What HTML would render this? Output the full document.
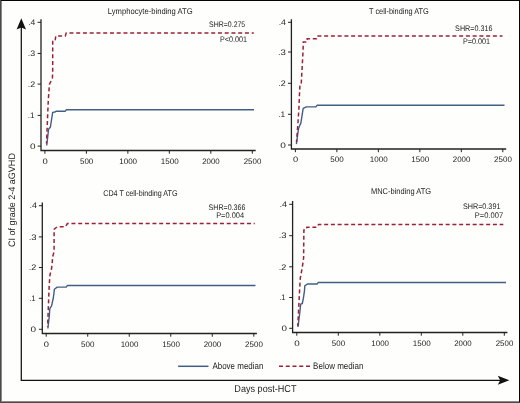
<!DOCTYPE html>
<html><head><meta charset="utf-8"><title>CI of grade 2-4 aGVHD</title>
<style>html,body{margin:0;padding:0;background:#fefefd;}svg{display:block;font-family:"Liberation Sans", sans-serif;text-rendering:geometricPrecision;will-change:transform;}</style>
</head><body>
<svg width="520" height="403" viewBox="0 0 520 403">
<rect x="0" y="0" width="520" height="403" fill="#fefefd"/>
<rect x="0" y="0" width="520" height="1" fill="#050505"/>
<rect x="519" y="0" width="1" height="402" fill="#050505"/>
<rect x="0" y="0" width="1" height="403" fill="#4a4a4a"/>
<rect x="1" y="1" width="1" height="400" fill="#8a8a8a"/>
<rect x="0" y="402" width="520" height="1" fill="#4a4a4a"/>
<rect x="1" y="401" width="518" height="1" fill="#8a8a8a"/>
<path d="M21.3 27 L21.3 380.3 L500 380.3" fill="none" stroke="#111" stroke-width="1.25"/>
<path d="M21.3 18.3 L26.0 29.5 L21.3 27.6 L16.6 29.5 Z" fill="#111"/>
<path d="M509.3 380.3 L497.8 375.8 L500.2 380.3 L497.8 384.8 Z" fill="#111"/>
<path d="M41.00 19.20 L41.00 150.50 L255.70 150.50" fill="none" stroke="#222" stroke-width="1.3"/>
<line x1="37.60" y1="146.10" x2="41.00" y2="146.10" stroke="#222" stroke-width="1"/>
<line x1="37.60" y1="115.40" x2="41.00" y2="115.40" stroke="#222" stroke-width="1"/>
<line x1="37.60" y1="84.10" x2="41.00" y2="84.10" stroke="#222" stroke-width="1"/>
<line x1="37.60" y1="53.45" x2="41.00" y2="53.45" stroke="#222" stroke-width="1"/>
<line x1="37.60" y1="22.30" x2="41.00" y2="22.30" stroke="#222" stroke-width="1"/>
<line x1="44.90" y1="150.50" x2="44.90" y2="153.70" stroke="#222" stroke-width="1"/>
<line x1="86.38" y1="150.50" x2="86.38" y2="153.70" stroke="#222" stroke-width="1"/>
<line x1="127.86" y1="150.50" x2="127.86" y2="153.70" stroke="#222" stroke-width="1"/>
<line x1="169.34" y1="150.50" x2="169.34" y2="153.70" stroke="#222" stroke-width="1"/>
<line x1="210.82" y1="150.50" x2="210.82" y2="153.70" stroke="#222" stroke-width="1"/>
<line x1="252.30" y1="150.50" x2="252.30" y2="153.70" stroke="#222" stroke-width="1"/>
<polyline points="46.70,145.50 48.60,129.20 50.40,127.00 52.70,112.40 54.80,112.00 56.40,111.20 65.30,111.20 66.30,109.80 254.00,109.80" fill="none" stroke="#435e86" stroke-width="1.4" stroke-linejoin="round"/>
<polyline points="46.50,143.50 48.30,100.00 49.40,84.50 52.40,78.00 52.70,72.00 52.70,40.00 55.30,39.60 55.80,35.90 65.30,35.90 66.20,32.95 253.80,32.95" fill="none" stroke="#9a2039" stroke-width="1.5" stroke-dasharray="4.0 2.75" stroke-dashoffset="1.809"/>
<path d="M291.40 19.30 L291.40 149.00 L506.20 149.00" fill="none" stroke="#222" stroke-width="1.3"/>
<line x1="288.00" y1="145.00" x2="291.40" y2="145.00" stroke="#222" stroke-width="1"/>
<line x1="288.00" y1="114.30" x2="291.40" y2="114.30" stroke="#222" stroke-width="1"/>
<line x1="288.00" y1="83.30" x2="291.40" y2="83.30" stroke="#222" stroke-width="1"/>
<line x1="288.00" y1="52.00" x2="291.40" y2="52.00" stroke="#222" stroke-width="1"/>
<line x1="288.00" y1="22.30" x2="291.40" y2="22.30" stroke="#222" stroke-width="1"/>
<line x1="295.40" y1="149.00" x2="295.40" y2="152.20" stroke="#222" stroke-width="1"/>
<line x1="336.88" y1="149.00" x2="336.88" y2="152.20" stroke="#222" stroke-width="1"/>
<line x1="378.36" y1="149.00" x2="378.36" y2="152.20" stroke="#222" stroke-width="1"/>
<line x1="419.84" y1="149.00" x2="419.84" y2="152.20" stroke="#222" stroke-width="1"/>
<line x1="461.32" y1="149.00" x2="461.32" y2="152.20" stroke="#222" stroke-width="1"/>
<line x1="502.80" y1="149.00" x2="502.80" y2="152.20" stroke="#222" stroke-width="1"/>
<polyline points="296.40,144.10 298.50,128.75 300.00,124.80 300.80,123.30 303.20,108.40 306.30,106.90 315.70,106.90 317.20,105.30 504.50,105.30" fill="none" stroke="#435e86" stroke-width="1.4" stroke-linejoin="round"/>
<polyline points="296.50,142.00 298.00,122.50 298.90,108.40 299.60,91.30 300.00,85.00 301.20,84.30 302.20,66.70 303.00,51.80 303.30,42.10 306.80,42.10 307.20,38.70 316.50,38.70 317.20,35.95 502.50,35.95" fill="none" stroke="#9a2039" stroke-width="1.5" stroke-dasharray="4.0 2.75" stroke-dashoffset="1.482"/>
<path d="M42.30 202.40 L42.30 333.50 L256.90 333.50" fill="none" stroke="#222" stroke-width="1.3"/>
<line x1="38.90" y1="329.30" x2="42.30" y2="329.30" stroke="#222" stroke-width="1"/>
<line x1="38.90" y1="298.30" x2="42.30" y2="298.30" stroke="#222" stroke-width="1"/>
<line x1="38.90" y1="267.50" x2="42.30" y2="267.50" stroke="#222" stroke-width="1"/>
<line x1="38.90" y1="236.90" x2="42.30" y2="236.90" stroke="#222" stroke-width="1"/>
<line x1="38.90" y1="205.70" x2="42.30" y2="205.70" stroke="#222" stroke-width="1"/>
<line x1="46.20" y1="333.50" x2="46.20" y2="336.70" stroke="#222" stroke-width="1"/>
<line x1="87.72" y1="333.50" x2="87.72" y2="336.70" stroke="#222" stroke-width="1"/>
<line x1="129.24" y1="333.50" x2="129.24" y2="336.70" stroke="#222" stroke-width="1"/>
<line x1="170.76" y1="333.50" x2="170.76" y2="336.70" stroke="#222" stroke-width="1"/>
<line x1="212.28" y1="333.50" x2="212.28" y2="336.70" stroke="#222" stroke-width="1"/>
<line x1="253.80" y1="333.50" x2="253.80" y2="336.70" stroke="#222" stroke-width="1"/>
<polyline points="47.90,328.50 49.30,316.00 49.80,308.60 51.60,305.90 53.40,297.50 54.40,289.20 57.20,287.10 66.20,287.10 67.30,285.55 255.50,285.55" fill="none" stroke="#435e86" stroke-width="1.4" stroke-linejoin="round"/>
<polyline points="47.60,327.00 49.20,285.00 50.00,274.80 51.40,269.60 52.20,263.60 52.60,256.90 54.10,251.70 54.10,229.40 55.60,228.00 57.50,226.70 65.40,226.70 67.40,223.55 254.80,223.55" fill="none" stroke="#9a2039" stroke-width="1.5" stroke-dasharray="4.0 2.75" stroke-dashoffset="3.341"/>
<path d="M292.60 201.10 L292.60 332.50 L507.40 332.50" fill="none" stroke="#222" stroke-width="1.3"/>
<line x1="289.20" y1="328.30" x2="292.60" y2="328.30" stroke="#222" stroke-width="1"/>
<line x1="289.20" y1="297.50" x2="292.60" y2="297.50" stroke="#222" stroke-width="1"/>
<line x1="289.20" y1="266.80" x2="292.60" y2="266.80" stroke="#222" stroke-width="1"/>
<line x1="289.20" y1="235.70" x2="292.60" y2="235.70" stroke="#222" stroke-width="1"/>
<line x1="289.20" y1="204.30" x2="292.60" y2="204.30" stroke="#222" stroke-width="1"/>
<line x1="296.80" y1="332.50" x2="296.80" y2="335.70" stroke="#222" stroke-width="1"/>
<line x1="338.30" y1="332.50" x2="338.30" y2="335.70" stroke="#222" stroke-width="1"/>
<line x1="379.80" y1="332.50" x2="379.80" y2="335.70" stroke="#222" stroke-width="1"/>
<line x1="421.30" y1="332.50" x2="421.30" y2="335.70" stroke="#222" stroke-width="1"/>
<line x1="462.80" y1="332.50" x2="462.80" y2="335.70" stroke="#222" stroke-width="1"/>
<line x1="504.30" y1="332.50" x2="504.30" y2="335.70" stroke="#222" stroke-width="1"/>
<polyline points="298.00,327.00 299.50,315.00 300.70,304.10 302.30,303.50 303.40,298.10 304.50,290.70 304.80,285.80 307.40,284.00 317.00,284.00 318.10,282.55 506.00,282.55" fill="none" stroke="#435e86" stroke-width="1.4" stroke-linejoin="round"/>
<polyline points="297.80,326.00 299.60,290.00 300.30,278.00 302.20,268.00 303.60,258.00 303.90,229.90 306.00,229.90 306.90,227.20 317.30,227.20 318.50,224.50 503.30,224.50" fill="none" stroke="#9a2039" stroke-width="1.5" stroke-dasharray="4.0 2.75" stroke-dashoffset="1.106"/>
<line x1="178.1" y1="366.3" x2="208.5" y2="366.3" stroke="#435e86" stroke-width="1.5"/>
<line x1="279.0" y1="366.2" x2="310.2" y2="366.2" stroke="#9a2039" stroke-width="1.5" stroke-dasharray="4.0 2.75"/>
<text x="107.84" y="13.60" font-size="8.4" textLength="84.86" lengthAdjust="spacingAndGlyphs" fill="#222" stroke="#222" stroke-width="0">Lymphocyte-binding ATG</text>
<text x="369.05" y="13.50" font-size="8.4" textLength="59.70" lengthAdjust="spacingAndGlyphs" fill="#222" stroke="#222" stroke-width="0">T cell-binding ATG</text>
<text x="103.30" y="195.50" font-size="8.4" textLength="74.23" lengthAdjust="spacingAndGlyphs" fill="#222" stroke="#222" stroke-width="0">CD4 T cell-binding ATG</text>
<text x="370.98" y="194.00" font-size="8.4" textLength="60.10" lengthAdjust="spacingAndGlyphs" fill="#222" stroke="#222" stroke-width="0">MNC-binding ATG</text>
<text x="209.12" y="27.00" font-size="8.1" textLength="36.13" lengthAdjust="spacingAndGlyphs" fill="#222" stroke="#222" stroke-width="0">SHR=0.275</text>
<text x="219.97" y="41.80" font-size="8.1" textLength="27.08" lengthAdjust="spacingAndGlyphs" fill="#222" stroke="#222" stroke-width="0">P&lt;0.001</text>
<text x="455.10" y="30.60" font-size="8.1" textLength="37.34" lengthAdjust="spacingAndGlyphs" fill="#222" stroke="#222" stroke-width="0">SHR=0.316</text>
<text x="462.97" y="44.00" font-size="8.1" textLength="27.18" lengthAdjust="spacingAndGlyphs" fill="#222" stroke="#222" stroke-width="0">P=0.001</text>
<text x="208.54" y="209.50" font-size="8.1" textLength="36.87" lengthAdjust="spacingAndGlyphs" fill="#222" stroke="#222" stroke-width="0">SHR=0.366</text>
<text x="216.17" y="218.10" font-size="8.1" textLength="27.90" lengthAdjust="spacingAndGlyphs" fill="#222" stroke="#222" stroke-width="0">P=0.004</text>
<text x="462.93" y="208.60" font-size="8.1" textLength="37.49" lengthAdjust="spacingAndGlyphs" fill="#222" stroke="#222" stroke-width="0">SHR=0.391</text>
<text x="474.82" y="218.10" font-size="8.1" textLength="28.35" lengthAdjust="spacingAndGlyphs" fill="#222" stroke="#222" stroke-width="0">P=0.007</text>
<text x="212.42" y="368.70" font-size="9.3" textLength="51.01" lengthAdjust="spacingAndGlyphs" fill="#222" stroke="#222" stroke-width="0">Above median</text>
<text x="313.11" y="368.70" font-size="9.3" textLength="50.35" lengthAdjust="spacingAndGlyphs" fill="#222" stroke="#222" stroke-width="0">Below median</text>
<text x="234.36" y="391.60" font-size="10.0" textLength="62.09" lengthAdjust="spacingAndGlyphs" fill="#222" stroke="#222" stroke-width="0">Days post-HCT</text>
<text x="30.13" y="148.85" font-size="8.0" textLength="5.54" lengthAdjust="spacingAndGlyphs" fill="#222" stroke="#222" stroke-width="0">0</text>
<text x="27.69" y="118.15" font-size="8.0" textLength="6.73" lengthAdjust="spacingAndGlyphs" fill="#222" stroke="#222" stroke-width="0">.1</text>
<text x="27.68" y="86.85" font-size="8.0" textLength="7.45" lengthAdjust="spacingAndGlyphs" fill="#222" stroke="#222" stroke-width="0">.2</text>
<text x="27.73" y="56.20" font-size="8.0" textLength="7.31" lengthAdjust="spacingAndGlyphs" fill="#222" stroke="#222" stroke-width="0">.3</text>
<text x="28.24" y="25.05" font-size="8.0" textLength="7.15" lengthAdjust="spacingAndGlyphs" fill="#222" stroke="#222" stroke-width="0">.4</text>
<text x="42.43" y="163.85" font-size="8.0" textLength="5.27" lengthAdjust="spacingAndGlyphs" fill="#222" stroke="#222" stroke-width="0">0</text>
<text x="80.02" y="163.85" font-size="8.0" textLength="13.25" lengthAdjust="spacingAndGlyphs" fill="#222" stroke="#222" stroke-width="0">500</text>
<text x="119.19" y="163.85" font-size="8.0" textLength="17.88" lengthAdjust="spacingAndGlyphs" fill="#222" stroke="#222" stroke-width="0">1000</text>
<text x="160.80" y="163.85" font-size="8.0" textLength="17.90" lengthAdjust="spacingAndGlyphs" fill="#222" stroke="#222" stroke-width="0">1500</text>
<text x="202.21" y="163.85" font-size="8.0" textLength="17.51" lengthAdjust="spacingAndGlyphs" fill="#222" stroke="#222" stroke-width="0">2000</text>
<text x="243.73" y="163.85" font-size="8.0" textLength="17.57" lengthAdjust="spacingAndGlyphs" fill="#222" stroke="#222" stroke-width="0">2500</text>
<text x="280.23" y="147.75" font-size="8.0" textLength="5.62" lengthAdjust="spacingAndGlyphs" fill="#222" stroke="#222" stroke-width="0">0</text>
<text x="278.15" y="117.05" font-size="8.0" textLength="6.95" lengthAdjust="spacingAndGlyphs" fill="#222" stroke="#222" stroke-width="0">.1</text>
<text x="278.18" y="86.05" font-size="8.0" textLength="7.43" lengthAdjust="spacingAndGlyphs" fill="#222" stroke="#222" stroke-width="0">.2</text>
<text x="277.95" y="54.75" font-size="8.0" textLength="8.00" lengthAdjust="spacingAndGlyphs" fill="#222" stroke="#222" stroke-width="0">.3</text>
<text x="278.65" y="25.05" font-size="8.0" textLength="7.22" lengthAdjust="spacingAndGlyphs" fill="#222" stroke="#222" stroke-width="0">.4</text>
<text x="293.05" y="162.35" font-size="8.0" textLength="5.17" lengthAdjust="spacingAndGlyphs" fill="#222" stroke="#222" stroke-width="0">0</text>
<text x="330.29" y="162.35" font-size="8.0" textLength="13.42" lengthAdjust="spacingAndGlyphs" fill="#222" stroke="#222" stroke-width="0">500</text>
<text x="369.77" y="162.35" font-size="8.0" textLength="17.83" lengthAdjust="spacingAndGlyphs" fill="#222" stroke="#222" stroke-width="0">1000</text>
<text x="411.34" y="162.35" font-size="8.0" textLength="17.86" lengthAdjust="spacingAndGlyphs" fill="#222" stroke="#222" stroke-width="0">1500</text>
<text x="452.79" y="162.35" font-size="8.0" textLength="17.58" lengthAdjust="spacingAndGlyphs" fill="#222" stroke="#222" stroke-width="0">2000</text>
<text x="494.12" y="162.35" font-size="8.0" textLength="17.73" lengthAdjust="spacingAndGlyphs" fill="#222" stroke="#222" stroke-width="0">2500</text>
<text x="30.56" y="332.05" font-size="8.0" textLength="5.56" lengthAdjust="spacingAndGlyphs" fill="#222" stroke="#222" stroke-width="0">0</text>
<text x="29.19" y="301.05" font-size="8.0" textLength="6.42" lengthAdjust="spacingAndGlyphs" fill="#222" stroke="#222" stroke-width="0">.1</text>
<text x="28.68" y="270.25" font-size="8.0" textLength="7.57" lengthAdjust="spacingAndGlyphs" fill="#222" stroke="#222" stroke-width="0">.2</text>
<text x="28.65" y="239.65" font-size="8.0" textLength="7.88" lengthAdjust="spacingAndGlyphs" fill="#222" stroke="#222" stroke-width="0">.3</text>
<text x="29.40" y="208.45" font-size="8.0" textLength="7.53" lengthAdjust="spacingAndGlyphs" fill="#222" stroke="#222" stroke-width="0">.4</text>
<text x="43.85" y="347.05" font-size="8.0" textLength="5.20" lengthAdjust="spacingAndGlyphs" fill="#222" stroke="#222" stroke-width="0">0</text>
<text x="80.99" y="347.05" font-size="8.0" textLength="13.43" lengthAdjust="spacingAndGlyphs" fill="#222" stroke="#222" stroke-width="0">500</text>
<text x="120.69" y="347.05" font-size="8.0" textLength="17.69" lengthAdjust="spacingAndGlyphs" fill="#222" stroke="#222" stroke-width="0">1000</text>
<text x="162.17" y="347.05" font-size="8.0" textLength="17.86" lengthAdjust="spacingAndGlyphs" fill="#222" stroke="#222" stroke-width="0">1500</text>
<text x="203.68" y="347.05" font-size="8.0" textLength="17.57" lengthAdjust="spacingAndGlyphs" fill="#222" stroke="#222" stroke-width="0">2000</text>
<text x="245.12" y="347.05" font-size="8.0" textLength="17.73" lengthAdjust="spacingAndGlyphs" fill="#222" stroke="#222" stroke-width="0">2500</text>
<text x="281.41" y="331.05" font-size="8.0" textLength="5.49" lengthAdjust="spacingAndGlyphs" fill="#222" stroke="#222" stroke-width="0">0</text>
<text x="279.19" y="300.25" font-size="8.0" textLength="6.42" lengthAdjust="spacingAndGlyphs" fill="#222" stroke="#222" stroke-width="0">.1</text>
<text x="278.68" y="269.55" font-size="8.0" textLength="7.57" lengthAdjust="spacingAndGlyphs" fill="#222" stroke="#222" stroke-width="0">.2</text>
<text x="278.65" y="238.45" font-size="8.0" textLength="7.88" lengthAdjust="spacingAndGlyphs" fill="#222" stroke="#222" stroke-width="0">.3</text>
<text x="279.40" y="207.05" font-size="8.0" textLength="7.53" lengthAdjust="spacingAndGlyphs" fill="#222" stroke="#222" stroke-width="0">.4</text>
<text x="294.21" y="346.25" font-size="8.0" textLength="5.48" lengthAdjust="spacingAndGlyphs" fill="#222" stroke="#222" stroke-width="0">0</text>
<text x="331.83" y="346.25" font-size="8.0" textLength="13.25" lengthAdjust="spacingAndGlyphs" fill="#222" stroke="#222" stroke-width="0">500</text>
<text x="371.37" y="346.25" font-size="8.0" textLength="17.63" lengthAdjust="spacingAndGlyphs" fill="#222" stroke="#222" stroke-width="0">1000</text>
<text x="412.82" y="346.25" font-size="8.0" textLength="17.80" lengthAdjust="spacingAndGlyphs" fill="#222" stroke="#222" stroke-width="0">1500</text>
<text x="454.24" y="346.25" font-size="8.0" textLength="17.49" lengthAdjust="spacingAndGlyphs" fill="#222" stroke="#222" stroke-width="0">2000</text>
<text x="495.73" y="346.25" font-size="8.0" textLength="17.57" lengthAdjust="spacingAndGlyphs" fill="#222" stroke="#222" stroke-width="0">2500</text>
<text transform="translate(15.20,246.97) rotate(-90)" x="0" y="0" font-size="9.4" textLength="93.89" lengthAdjust="spacingAndGlyphs" fill="#222" stroke="#222" stroke-width="0">CI of grade 2-4 aGVHD</text>
</svg>
</body></html>
